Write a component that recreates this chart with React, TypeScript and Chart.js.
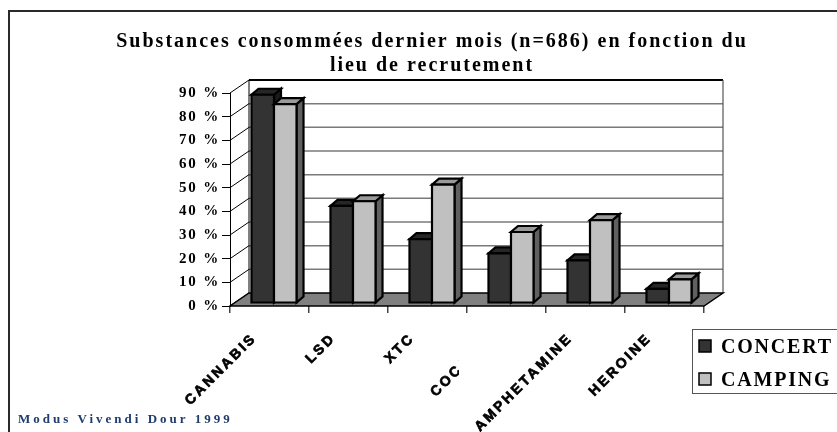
import React, { useEffect, useRef } from 'react';
import { Chart, registerables } from 'chart.js';

Chart.register(...registerables);

// ---- data ----
const categories = ['CANNABIS', 'LSD', 'XTC', 'COCAINE', 'AMPHETAMINE', 'HEROINE'];
const concert = [88, 41, 27, 21, 18, 6];
const camping = [84, 43, 50, 30, 35, 10];
const seriesNames = ['CONCERT', 'CAMPING'];
const yMin = 0;
const yMax = 90;
const yStep = 10;
const titleLines = ['Substances consommées dernier mois (n=686) en fonction du', 'lieu de recrutement'];
const footerText = 'Modus Vivendi Dour 1999';

// ---- styling ----
const SERIF = '"Liberation Serif", "Times New Roman", serif';
const SANS = '"Liberation Sans", Arial, sans-serif';
const DEPTH = { x: 19, y: -13 };
const BAR_OFF = { x: 4.5, y: -3 };
const BAR_DEPTH = { x: 7, y: -6 };
const FACE = [
  { front: '#333333', top: '#262626', side: '#1a1a1a' },
  { front: '#c0c0c0', top: '#9a9a9a', side: '#606060' },
];
const CLIPPED_LABEL = 3;

function line(ctx: CanvasRenderingContext2D, x1: number, y1: number, x2: number, y2: number) {
  ctx.beginPath();
  ctx.moveTo(x1, y1);
  ctx.lineTo(x2, y2);
  ctx.stroke();
}

function poly(ctx: CanvasRenderingContext2D, pts: number[][], fill: string) {
  ctx.beginPath();
  ctx.moveTo(pts[0][0], pts[0][1]);
  for (let i = 1; i < pts.length; i++) ctx.lineTo(pts[i][0], pts[i][1]);
  ctx.closePath();
  ctx.fillStyle = fill;
  ctx.fill();
  ctx.stroke();
}

const threeD = {
  id: 'threeD',
  beforeDraw(chart: any) {
    chart.ctx.letterSpacing = '1.8px';
  },
  beforeDatasetsDraw(chart: any) {
    const ctx: CanvasRenderingContext2D = chart.ctx;
    const ys = chart.scales.y;
    const { left, right } = chart.chartArea;
    const y0 = ys.getPixelForValue(yMin);
    const yT = ys.getPixelForValue(yMax);
    const bl = left + DEPTH.x;
    const br = right + DEPTH.x;
    ctx.save();
    ctx.letterSpacing = '0px';
    // back wall gridlines
    ctx.strokeStyle = '#7a7a7a';
    ctx.lineWidth = 1.5;
    for (let v = yMin + yStep; v < yMax; v += yStep) {
      const y = ys.getPixelForValue(v) + DEPTH.y;
      line(ctx, bl, y, br, y);
    }
    // side wall diagonals
    ctx.strokeStyle = '#000';
    ctx.lineWidth = 1;
    for (let v = yMin; v <= yMax; v += yStep) {
      const y = ys.getPixelForValue(v);
      line(ctx, left, y, bl, y + DEPTH.y);
    }
    line(ctx, bl, y0 + DEPTH.y, bl, yT + DEPTH.y);
    ctx.lineWidth = 2;
    line(ctx, bl, yT + DEPTH.y, br, yT + DEPTH.y);
    ctx.strokeStyle = '#555';
    ctx.lineWidth = 1.2;
    line(ctx, br, y0 + DEPTH.y, br, yT + DEPTH.y);
    // floor
    ctx.strokeStyle = '#000';
    ctx.lineWidth = 1.5;
    poly(ctx, [[left, y0], [right, y0], [br, y0 + DEPTH.y], [bl, y0 + DEPTH.y]], '#808080');
    // bars
    ctx.lineWidth = 2.2;
    ctx.lineJoin = 'miter';
    const metas = [chart.getDatasetMeta(0), chart.getDatasetMeta(1)];
    for (let i = 0; i < categories.length; i++) {
      for (let d = 0; d < 2; d++) {
        const el = metas[d].data[i];
        const x0 = el.x - el.width / 2 + BAR_OFF.x;
        const x1 = el.x + el.width / 2 + BAR_OFF.x;
        const yt = el.y + BAR_OFF.y;
        const yb = el.base + BAR_OFF.y;
        const f = FACE[d];
        ctx.strokeStyle = '#000';
        poly(ctx, [[x1, yt], [x1 + BAR_DEPTH.x, yt + BAR_DEPTH.y], [x1 + BAR_DEPTH.x, yb + BAR_DEPTH.y], [x1, yb]], f.side);
        poly(ctx, [[x0, yt], [x1, yt], [x1 + BAR_DEPTH.x, yt + BAR_DEPTH.y], [x0 + BAR_DEPTH.x, yt + BAR_DEPTH.y]], f.top);
        poly(ctx, [[x0, yt], [x1, yt], [x1, yb], [x0, yb]], f.front);
      }
    }
    ctx.restore();
    return false;
  },
  afterDraw(chart: any) {
    const ctx: CanvasRenderingContext2D = chart.ctx;
    const xs = chart.scales.x;
    const ys = chart.scales.y;
    const y0 = ys.getPixelForValue(yMin);
    ctx.save();
    // frame
    ctx.strokeStyle = '#2a2a2a';
    ctx.lineWidth = 2;
    ctx.beginPath();
    ctx.moveTo(9, chart.height);
    ctx.lineTo(9, 11);
    ctx.lineTo(chart.width, 11);
    ctx.stroke();
    // title
    ctx.fillStyle = '#000';
    ctx.font = `bold 20px ${SERIF}`;
    ctx.letterSpacing = '2px';
    ctx.textAlign = 'center';
    ctx.textBaseline = 'alphabetic';
    ctx.fillText(titleLines[0], 432, 47);
    ctx.fillText(titleLines[1], 432, 71);
    // x labels
    ctx.font = `bold 14px ${SANS}`;
    ctx.letterSpacing = '2.6px';
    ctx.textAlign = 'right';
    ctx.textBaseline = 'middle';
    ctx.strokeStyle = '#000';
    ctx.lineWidth = 0.7;
    for (let i = 0; i < categories.length; i++) {
      const cx = xs.getPixelForValue(i);
      ctx.save();
      if (i === CLIPPED_LABEL) {
        const edge = (xs.getPixelForValue(i - 1) + cx) / 2 - 8;
        ctx.beginPath();
        ctx.rect(0, 0, edge, chart.height);
        ctx.clip();
      }
      ctx.translate(cx - 15, y0 + 30);
      ctx.rotate(-Math.PI / 4);
      ctx.fillText(categories[i], 0, 0);
      ctx.strokeText(categories[i], 0, 0);
      ctx.restore();
    }
    // legend
    ctx.strokeStyle = '#555';
    ctx.lineWidth = 1;
    ctx.strokeRect(692.5, 329.5, 200, 64);
    ctx.font = `bold 20px ${SERIF}`;
    ctx.letterSpacing = '1.8px';
    ctx.textAlign = 'left';
    ctx.textBaseline = 'alphabetic';
    for (let d = 0; d < 2; d++) {
      const yy = 340 + d * 33;
      ctx.fillStyle = FACE[d].front;
      ctx.fillRect(699, yy, 12, 12);
      ctx.strokeStyle = '#000';
      ctx.lineWidth = 1.5;
      ctx.strokeRect(699, yy, 12, 12);
      ctx.fillStyle = '#000';
      ctx.fillText(seriesNames[d], 721, yy + 13);
    }
    // footer
    ctx.fillStyle = '#1f3c6e';
    ctx.font = `bold 13px ${SERIF}`;
    ctx.letterSpacing = '3px';
    ctx.fillText(footerText, 18, 423);
    ctx.restore();
    ctx.letterSpacing = '0px';
  },
};

export default function App() {
  const ref = useRef<HTMLCanvasElement>(null);
  useEffect(() => {
    if (!ref.current) return;
    const chart = new Chart(ref.current, {
      type: 'bar',
      data: {
        labels: categories,
        datasets: [
          { label: seriesNames[0], data: concert, backgroundColor: FACE[0].front },
          { label: seriesNames[1], data: camping, backgroundColor: FACE[1].front },
        ],
      },
      options: {
        responsive: false,
        animation: false,
        devicePixelRatio: 1,
        layout: { padding: { top: 93, left: 150, right: 133, bottom: 86 } },
        datasets: { bar: { categoryPercentage: 0.57, barPercentage: 1 } },
        plugins: {
          legend: { display: false },
          title: { display: false },
          tooltip: { enabled: false },
        },
        scales: {
          x: {
            grid: { offset: true, drawOnChartArea: false, drawTicks: true, tickLength: 7, color: '#444', lineWidth: 1.5 },
            border: { display: false },
            ticks: { display: false },
            afterFit: (s: any) => { s.height = 40; },
          },
          y: {
            min: yMin,
            max: yMax,
            ticks: {
              stepSize: yStep,
              callback: (v: any) => `${v} %`,
              color: '#000',
              font: { family: SERIF, weight: 'bold', size: 15 },
              padding: 2,
            },
            grid: { drawOnChartArea: false, tickLength: 8, color: '#000' },
            border: { display: true, color: '#000', width: 1 },
            afterFit: (s: any) => { s.width = 80; },
          },
        },
      } as any,
      plugins: [threeD as any],
    });
    return () => chart.destroy();
  }, []);
  return (
    <div style={{ position: 'absolute', left: 0, top: 0, width: 837, height: 432, background: '#fff' }}>
      <canvas ref={ref} width={837} height={432} style={{ display: 'block' }} />
    </div>
  );
}
